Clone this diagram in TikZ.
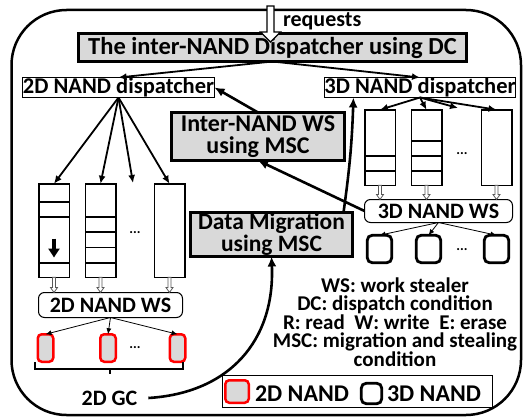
\documentclass[tikz,border=0pt]{standalone}
\usepackage{fontspec}
\setmainfont{Carlito}
\usetikzlibrary{arrows.meta,calc}
\newcommand\harrow[6]{%
\draw[#6] let \p1=(#1), \p2=(#2) in (\x1-#3,\y1) -- (\x1+#3,\y1) -- (\x1+#3,\y2+#5) -- (\x1+#4,\y2+#5) -- (\x1,\y2) -- (\x1-#4,\y2+#5) -- (\x1-#3,\y2+#5) -- cycle;}
\newcommand\myfs[2]{\fontsize{#1}{#2}\selectfont}
\begin{document}
\begin{tikzpicture}[x=1pt,y=-1pt,
 every node/.style={inner sep=0pt, outer sep=0pt, font=\bfseries\myfs{22}{22}},
 gbox/.style={draw, line width=3pt, fill=black!15, align=center},
 wbox/.style={draw, line width=1pt, fill=white},
 rbox/.style={draw, line width=1pt, fill=white, rounded corners=6pt},
 queue/.style={draw, line width=1.5pt, fill=white, minimum width=30.5pt},
 chipr/.style={draw=red, line width=2.5pt, fill=black!15, rounded corners=4pt},
 chipb/.style={draw, line width=2.8pt, fill=white, rounded corners=5pt},
 marr/.style={-{Latex[length=8pt,width=7pt]}, line width=1.8pt},
 tarr/.style={-{Latex[length=6pt,width=5pt]}, line width=0.8pt},
 barr/.style={-{Latex[length=10pt,width=9pt]}, line width=2.6pt},
 dots/.style={font=\bfseries\myfs{14}{14}},
 small/.style={draw=black!65, fill=white, line width=0.8pt}]

\useasboundingbox (0,0) rectangle (525,420);
\draw[line width=2.5pt, rounded corners=55pt] (11.5,10) rectangle (521,415);

% top dispatcher
\node[gbox, minimum width=388pt, minimum height=28pt, font=\bfseries\myfs{24.5}{25}] (disp) at (272.5,47.5) {The inter-NAND Dispatcher using DC};
\coordinate (reqtop) at (270.5,6);
\coordinate (reqtip) at (270.5,42);
\harrow{reqtop}{reqtip}{3.5pt}{10pt}{10pt}{draw, fill=white, line width=1.2pt}
\node[anchor=base west] (req) at (283,27) {requests};

% second-level dispatchers
\node[wbox, minimum width=192pt, minimum height=20pt, font=\bfseries\myfs{22.5}{22}] (d2) at (118.5,87.5) {2D NAND dispatcher};
\node[wbox, minimum width=189pt, minimum height=20pt, font=\bfseries\myfs{22.5}{22}] (d3) at (420,87.5) {3D NAND dispatcher};
\draw[marr] (disp.south) -- (d2.north);
\draw[marr] (disp.south) -- (d3.north);

% MSC boxes
\node[gbox, minimum width=173pt, minimum height=48pt, font=\bfseries\myfs{24}{22}] (iws) at (258,136.5) {Inter-NAND WS\\using MSC};
\node[gbox, minimum width=162pt, minimum height=44pt, font=\bfseries\myfs{23.5}{22}] (dm) at (271.5,234.5) {Data Migration\\using MSC};

% 2D queues
\node[queue, minimum height=93.5pt] (q1) at (54,230.5) {};
\node[queue, minimum height=93.5pt] (q2) at (100.5,230.5) {};
\node[queue, minimum height=93.5pt] (q3) at (169.5,230.5) {};
\foreach \yy in {202,217,263} \draw[line width=1.5pt] (q1.west |- 0,\yy) -- (q1.east |- 0,\yy);
\foreach \yy in {217,232,247.5,263} \draw[line width=1.5pt] (q2.west |- 0,\yy) -- (q2.east |- 0,\yy);
\draw[line width=3.5pt, -{Triangle[length=9pt,width=11pt]}] ($(q1.center)+(0,8)$) -- ($(q1.center)+(0,27)$);
\node[dots] (dt1) at (135,233) {...};
\coordinate (dd1) at (133,183);
\foreach \t in {q1.north,q2.north,dd1,q3.north} \draw[marr] (d2.south) -- (\t);

% 3D queues
\node[queue, minimum height=75.5pt] (qa) at (380,147.5) {};
\node[queue, minimum height=75.5pt] (qb) at (426.5,147.5) {};
\node[queue, minimum height=75.5pt] (qc) at (496.5,147.5) {};
\foreach \yy in {156,171} \draw[line width=1.5pt] (qa.west |- 0,\yy) -- (qa.east |- 0,\yy);
\foreach \yy in {141,156,171} \draw[line width=1.5pt] (qb.west |- 0,\yy) -- (qb.east |- 0,\yy);
\node[dots] (dt3) at (462,154) {...};
\coordinate (dd3) at (458,108);
\foreach \t in {qa.north,qb.north,dd3,qc.north} \draw[marr] (d3.south) -- (\t);

% WS boxes
\node[rbox, minimum width=144pt, minimum height=25pt] (ws2) at (110.5,305) {2D NAND WS};
\node[rbox, minimum width=148pt, minimum height=23pt] (ws3) at (438.5,211) {3D NAND WS};
\foreach \q in {q1,q2,q3} {\harrow{\q.south}{ws2.north}{1.5pt}{3.5pt}{5pt}{small}}
\foreach \q in {qa,qb,qc} {\harrow{\q.south}{ws3.north}{1.5pt}{3.5pt}{5pt}{small}}

% chips
\node[chipr, minimum width=15.5pt, minimum height=27.5pt] (c1) at (45.5,348) {};
\node[chipr, minimum width=15.5pt, minimum height=27.5pt] (c2) at (108,348) {};
\node[chipr, minimum width=15.5pt, minimum height=27.5pt] (c3) at (177.5,348) {};
\node[dots] (dt2) at (135,348) {...};
\foreach \c in {c1,c2,c3} \draw[tarr] (ws2.south) -- (\c.north);
\node[chipb, minimum width=24.5pt, minimum height=27.5pt] (e1) at (379.5,249) {};
\node[chipb, minimum width=24.5pt, minimum height=27.5pt] (e2) at (428.5,249) {};
\node[chipb, minimum width=24.5pt, minimum height=27.5pt] (e3) at (496.5,249) {};
\node[dots] (dt4) at (462,250) {...};
\foreach \c in {e1,e2,e3} \draw[tarr] (ws3.south) -- (\c.north);

% brace and GC
\draw[line width=2.5pt] (35,362) -- (35,369) -- (183,369) -- (183,362);
\draw[line width=2.5pt] (110,369) -- (110,374);
\node (gc) at (109.5,398) {2D GC};
\draw[barr] ($(gc.east)+(11,0)$) .. controls (230,393) and (275,340) .. (dm.south);

% MSC connectors
\draw[barr] (iws.north) -- (d2.east);
\draw[barr] (ws3.west) -- (iws.south);
\draw[barr] ($(dm.north east)+(-9,0)$) to[bend right=3] ($(d3.south west)+(29,0)$);

% legend
\node[align=center, font=\bfseries\myfs{21}{18.5}] (leg) at (395,322) {WS: work stealer\\DC: dispatch condition\\R: read\ \ W: write\ \ E: erase\\MSC: migration and stealing\\condition};
\node[draw, line width=1.2pt, minimum width=270pt, minimum height=32pt] (lbox) at (357.5,391.5) {};
\node[chipr, minimum width=23.5pt, minimum height=22.5pt] (lr) at (237,391.5) {};
\node[anchor=base west, font=\bfseries\myfs{24}{24}] (l2) at (255,401) {2D NAND};
\node[chipb, minimum width=20.5pt, minimum height=20.5pt] (lb) at (371.5,393.5) {};
\node[anchor=base west, font=\bfseries\myfs{24}{24}] (l3) at (387,401) {3D NAND};
\end{tikzpicture}
\end{document}
